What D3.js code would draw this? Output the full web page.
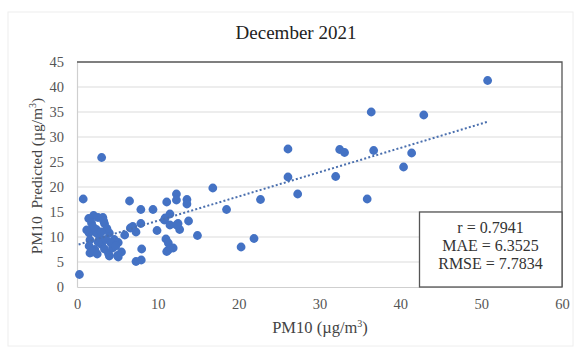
<!DOCTYPE html>
<html>
<head>
<meta charset="utf-8">
<script src="https://cdn.jsdelivr.net/npm/d3@7"></script>
<style>
  body { margin: 0; background: #fff; }
  text { font-family: "Liberation Serif", "Times New Roman", serif; }
</style>
</head>
<body>
<svg id="chart" width="577" height="349"></svg>
<script>
// 観測値 (x) と予測値 (y)
const observed = [
  50.8, 36.4, 42.9, 26.1, 32.5, 33.1, 36.7, 41.4, 40.4, 3.05,
  26.1, 32.0, 16.8, 27.3, 22.7, 35.9, 18.5, 20.3, 21.9, 14.9,
  0.77, 0.3, 6.5, 7.9, 9.4, 12.3, 11.1, 12.3, 13.6, 13.6,
  13.8, 12.5, 12.7, 11.5, 10.8, 11.5, 11.0, 11.3, 11.3, 11.9,
  9.9, 7.9, 8.0, 7.95, 7.3, 6.9, 7.3, 5.9, 5.1, 5.5,
  5.1, 4.6, 4.0, 3.7, 3.4, 3.2, 2.6, 2.05, 1.45, 1.8,
  2.4, 1.5, 1.6, 1.5, 1.6, 2.2, 3.05, 3.4, 3.9, 4.4,
  2.8, 2.4, 2.0, 3.0, 2.6, 3.6, 4.2, 4.8, 1.9, 2.5,
  1.2, 3.3, 4.0, 5.0, 10.9, 11.1, 12.3, 6.6
];
const predicted = [
  41.3, 35.0, 34.4, 27.6, 27.5, 26.9, 27.3, 26.8, 24.0, 25.9,
  22.0, 22.1, 19.8, 18.6, 17.5, 17.6, 15.5, 8.0, 9.7, 10.3,
  17.6, 2.5, 17.2, 15.5, 15.5, 18.6, 17.0, 17.4, 17.5, 16.6,
  13.2, 12.7, 11.5, 14.6, 13.4, 12.4, 9.6, 8.8, 7.4, 7.8,
  11.3, 12.7, 7.6, 5.4, 5.1, 12.1, 11.0, 10.4, 6.0, 7.0,
  8.9, 9.5, 10.8, 11.7, 12.7, 13.9, 13.9, 14.3, 13.7, 12.8,
  11.5, 10.8, 9.4, 8.2, 6.8, 7.5, 8.5, 7.6, 6.7, 7.8,
  10.0, 10.8, 12.0, 11.0, 9.0, 9.5, 8.8, 8.2, 7.0, 6.6,
  11.4, 13.2, 6.2, 6.3, 13.8, 7.1, 12.4, 11.8
];

// 近似直線の端点
const trendX = [0.2, 50.7];
const trendY = [8.5, 33.0];

// 軸の目盛り
const xTicks = [0, 10, 20, 30, 40, 50, 60];
const yTicks = [0, 5, 10, 15, 20, 25, 30, 35, 40, 45];

// 統計ボックスの文字列
const statLines = ["r = 0.7941", "MAE = 6.3525", "RMSE = 7.7834"];

const svg = d3.select("#chart");
const plotLeft = 77, plotRight = 562, plotTop = 62, plotBottom = 287;

const x = d3.scaleLinear().domain([0, 60]).range([plotLeft, plotRight]);
const y = d3.scaleLinear().domain([0, 45]).range([plotBottom, plotTop]);

// 外枠
svg.append("rect")
  .attr("x", 8).attr("y", 12).attr("width", 565).attr("height", 334)
  .attr("fill", "none").attr("stroke", "#eeeeee");

// タイトル
svg.append("text")
  .attr("x", 296).attr("y", 39)
  .attr("text-anchor", "middle")
  .attr("font-size", 19)
  .attr("fill", "#222")
  .text("December 2021");

// 横グリッド
svg.append("g")
  .selectAll("line")
  .data(yTicks.filter(d => d > 0 && d < 45))
  .enter()
  .append("line")
  .attr("x1", plotLeft).attr("x2", plotRight)
  .attr("y1", d => y(d)).attr("y2", d => y(d))
  .attr("stroke", "#dcdcdc").attr("stroke-width", 1.2);

// 軸
const xAxis = svg.append("g")
  .attr("transform", `translate(0,${plotBottom})`)
  .call(d3.axisBottom(x).tickValues(xTicks).tickSize(0).tickPadding(12));
const yAxis = svg.append("g")
  .attr("transform", `translate(${plotLeft},0)`)
  .call(d3.axisLeft(y).tickValues(yTicks).tickSize(0).tickPadding(13));

[xAxis, yAxis].forEach(g => {
  g.select(".domain").attr("stroke", "#cfcfcf").attr("stroke-width", 1.2);
  g.selectAll("text")
    .attr("font-family", "Liberation Serif, serif")
    .attr("font-size", 14.5)
    .attr("fill", "#555");
});

// 上と右の枠線
svg.append("path")
  .attr("d", `M${plotLeft},${plotTop}H${plotRight}V${plotBottom}`)
  .attr("fill", "none").attr("stroke", "#555").attr("stroke-width", 1.3);

// 散布点
svg.append("g")
  .selectAll("circle")
  .data(d3.range(observed.length))
  .enter()
  .append("circle")
  .attr("cx", i => x(observed[i]))
  .attr("cy", i => y(predicted[i]))
  .attr("r", 4.4)
  .attr("fill", "#4472c4");

// 近似直線
svg.append("line")
  .attr("x1", x(trendX[0])).attr("y1", y(trendY[0]))
  .attr("x2", x(trendX[1])).attr("y2", y(trendY[1]))
  .attr("stroke", "#4a6fae")
  .attr("stroke-width", 2)
  .attr("stroke-dasharray", "2,2.2");

// 統計ボックス
svg.append("rect")
  .attr("x", 419.5).attr("y", 212).attr("width", 142.5).attr("height", 75)
  .attr("fill", "#fff").attr("stroke", "#555").attr("stroke-width", 1.3);

svg.append("g")
  .selectAll("text")
  .data(statLines)
  .enter()
  .append("text")
  .attr("x", 490.5)
  .attr("y", (d, i) => 233 + i * 18)
  .attr("text-anchor", "middle")
  .attr("font-size", 16)
  .attr("fill", "#333")
  .text(d => d);

// 軸タイトル
const xTitle = svg.append("text")
  .attr("x", 320).attr("y", 333)
  .attr("text-anchor", "middle")
  .attr("font-size", 16.5)
  .attr("fill", "#444");
xTitle.append("tspan").text("PM10 (µg/m");
xTitle.append("tspan").attr("font-size", 10).attr("dy", -6).text("3");
xTitle.append("tspan").attr("dy", 6).text(")");

const yTitle = svg.append("text")
  .attr("transform", "translate(42,176) rotate(-90)")
  .attr("text-anchor", "middle")
  .attr("font-size", 15.5)
  .attr("fill", "#444")
  .style("white-space", "pre");
yTitle.append("tspan").text("PM10  Predicted (µg/m");
yTitle.append("tspan").attr("font-size", 10).attr("dy", -6).text("3");
yTitle.append("tspan").attr("dy", 6).text(")");
</script>
</body>
</html>
